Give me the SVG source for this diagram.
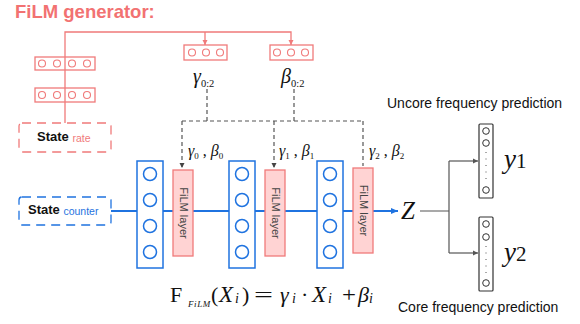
<svg xmlns="http://www.w3.org/2000/svg" width="580" height="324" viewBox="0 0 580 324">
<defs>
<style>
.pk{fill:none;stroke:#f07a7a;stroke-width:1.3}
.pkc{fill:#fff;stroke:#f07a7a;stroke-width:1.1}
.bl{fill:#fff;stroke:#1f73e0;stroke-width:1.5}
.blc{fill:#fff;stroke:#1f73e0;stroke-width:1.5}
.fl{fill:#ffd3d3;stroke:#f07a7a;stroke-width:1.3}
.fltx{font-family:"Liberation Sans",Arial,sans-serif;font-size:11px;fill:#444}
.ds{fill:none;stroke:#555;stroke-width:1.2;stroke-dasharray:4,3}
.mth{font-family:"Liberation Serif","Times New Roman",serif;font-style:italic;fill:#111}
.sub{font-family:"Liberation Serif","Times New Roman",serif;font-style:normal;fill:#111}
.lab{font-family:"Liberation Sans",Arial,sans-serif;font-size:14px;fill:#111}
.oc{fill:#fff;stroke:#333;stroke-width:1}
.fm{font-family:"Liberation Serif","Times New Roman",serif;font-size:22px;fill:#111}
.fi{font-style:italic}
.fs{font-style:italic;font-size:14px}
</style>
<marker id="apk" markerWidth="6" markerHeight="6" refX="5" refY="3" orient="auto" markerUnits="userSpaceOnUse"><path d="M0,0.5 L5,3 L0,5.5z" fill="#f07a7a"/></marker>
<marker id="ads" markerWidth="6" markerHeight="6" refX="5" refY="3" orient="auto" markerUnits="userSpaceOnUse"><path d="M0,0.5 L5,3 L0,5.5z" fill="#444"/></marker>
<marker id="abl" markerWidth="8" markerHeight="8" refX="7" refY="4" orient="auto" markerUnits="userSpaceOnUse"><path d="M0,1 L7,4 L0,7z" fill="#1f73e0"/></marker>
<marker id="agr" markerWidth="6" markerHeight="6" refX="5" refY="3" orient="auto" markerUnits="userSpaceOnUse"><path d="M0,0.5 L5,3 L0,5.5z" fill="#555"/></marker>
</defs>
<rect width="580" height="324" fill="#fff"/>

<text x="15" y="18" font-family="Liberation Sans,Arial,sans-serif" font-weight="bold" font-size="18.5" fill="#f27272">FiLM generator:</text>

<g id="connectors">
<path class="pk" d="M65,123 V32 H291 V45" marker-end="url(#apk)"/>
<path class="pk" d="M205,32 V45" marker-end="url(#apk)"/>
<path class="ds" d="M207,89 V121 M294,89 V121 M182,121 H363"/>
<path class="ds" d="M182,121 V168" marker-end="url(#ads)"/>
<path class="ds" d="M274,121 V168" marker-end="url(#ads)"/>
<path class="ds" d="M363,121 V166"/>
<path d="M111,211 H137 M163,211 H173 M193,211 H229 M255,211 H265 M285,211 H317 M343,211 H353 M373,211 H398" fill="none" stroke="#1f73e0" stroke-width="2" marker-end="url(#abl)"/>
<path d="M420,211 H449 M449,161 V253" fill="none" stroke="#555" stroke-width="1.2"/>
<path d="M449,161 H478" fill="none" stroke="#555" stroke-width="1.2" marker-end="url(#agr)"/>
<path d="M449,253 H478" fill="none" stroke="#555" stroke-width="1.2" marker-end="url(#agr)"/>
</g>

<g id="gen1">
<rect class="pk" x="35" y="57" width="60" height="13"/>
<circle class="pkc" cx="42" cy="63.5" r="3.5"/><circle class="pkc" cx="57" cy="63.5" r="3.5"/><circle class="pkc" cx="72" cy="63.5" r="3.5"/><circle class="pkc" cx="87" cy="63.5" r="3.5"/>
</g>
<g id="gen2">
<rect class="pk" x="35" y="88" width="60" height="14" fill="#fff"/>
<circle class="pkc" cx="42" cy="95" r="3.5"/><circle class="pkc" cx="57" cy="95" r="3.5"/><circle class="pkc" cx="72" cy="95" r="3.5"/><circle class="pkc" cx="87" cy="95" r="3.5"/>
</g>
<g id="state_rate">
<rect x="19" y="123" width="92" height="29" rx="3" fill="#fff" stroke="#f07a7a" stroke-width="1.3" stroke-dasharray="9,6"/>
<text x="37" y="141" font-family="Liberation Sans,Arial,sans-serif" font-weight="bold" font-size="13" fill="#111">State <tspan font-weight="normal" font-size="10.5" fill="#f07a7a" dy="1">rate</tspan></text>
</g>

<g id="gamma_box">
<rect class="pk" x="184" y="45" width="43" height="15" fill="#fff"/>
<circle class="pkc" cx="192" cy="52.5" r="3.5"/><circle class="pkc" cx="206" cy="52.5" r="3.5"/><circle class="pkc" cx="220" cy="52.5" r="3.5"/>
<text class="mth" x="193" y="83" font-size="20">γ<tspan class="sub" font-size="10.5" dy="4">0:2</tspan></text>
</g>
<g id="beta_box">
<rect class="pk" x="270" y="45" width="43" height="15" fill="#fff"/>
<circle class="pkc" cx="277" cy="52.5" r="3.5"/><circle class="pkc" cx="291" cy="52.5" r="3.5"/><circle class="pkc" cx="305" cy="52.5" r="3.5"/>
<text class="mth" x="281" y="83" font-size="20">β<tspan class="sub" font-size="10.5" dy="4">0:2</tspan></text>
</g>

<text class="mth" x="188" y="156" font-size="16">γ<tspan class="sub" font-size="9" dy="3">0</tspan><tspan class="sub" dy="-3"> , </tspan>β<tspan class="sub" font-size="9" dy="3">0</tspan></text>
<text class="mth" x="279" y="156" font-size="16">γ<tspan class="sub" font-size="9" dy="3">1</tspan><tspan class="sub" dy="-3"> , </tspan>β<tspan class="sub" font-size="9" dy="3">1</tspan></text>
<text class="mth" x="369" y="156" font-size="16">γ<tspan class="sub" font-size="9" dy="3">2</tspan><tspan class="sub" dy="-3"> , </tspan>β<tspan class="sub" font-size="9" dy="3">2</tspan></text>

<g id="state_counter">
<rect x="19" y="197" width="92" height="28" rx="3" fill="#fff" stroke="#1f73e0" stroke-width="1.3" stroke-dasharray="9,6"/>
<text x="28" y="214" font-family="Liberation Sans,Arial,sans-serif" font-weight="bold" font-size="13" fill="#111">State <tspan font-weight="normal" font-size="10.5" fill="#1f73e0" dy="1">counter</tspan></text>
</g>

<g id="layer1">
<rect class="bl" x="137" y="161" width="26" height="107"/>
<circle class="blc" cx="150" cy="174" r="6.5"/><circle class="blc" cx="150" cy="200" r="6.5"/><circle class="blc" cx="150" cy="226" r="6.5"/><circle class="blc" cx="150" cy="252" r="6.5"/>
</g>
<g id="film1">
<rect class="fl" x="173" y="170" width="20" height="86"/>
<text class="fltx" transform="translate(179.5,213) rotate(90)" text-anchor="middle">FiLM layer</text>
</g>
<g id="layer2">
<rect class="bl" x="229" y="161" width="26" height="107"/>
<circle class="blc" cx="242" cy="174" r="6.5"/><circle class="blc" cx="242" cy="200" r="6.5"/><circle class="blc" cx="242" cy="226" r="6.5"/><circle class="blc" cx="242" cy="252" r="6.5"/>
</g>
<g id="film2">
<rect class="fl" x="265" y="170" width="20" height="86"/>
<text class="fltx" transform="translate(271.5,213) rotate(90)" text-anchor="middle">FiLM layer</text>
</g>
<g id="layer3">
<rect class="bl" x="317" y="161" width="26" height="107"/>
<circle class="blc" cx="330" cy="174" r="6.5"/><circle class="blc" cx="330" cy="200" r="6.5"/><circle class="blc" cx="330" cy="226" r="6.5"/><circle class="blc" cx="330" cy="252" r="6.5"/>
</g>
<g id="film3">
<rect class="fl" x="353" y="168" width="20" height="85"/>
<text class="fltx" transform="translate(359.5,210.5) rotate(90)" text-anchor="middle">FiLM layer</text>
</g>

<g id="z">
<text class="mth" x="401" y="219" font-size="25">Z</text>
</g>

<text class="lab" x="387" y="108">Uncore frequency prediction</text>
<text class="lab" x="398" y="312">Core frequency prediction</text>

<g id="out1">
<rect x="479" y="124" width="14" height="74" rx="1" fill="#fff" stroke="#333" stroke-width="1.2"/>
<circle class="oc" cx="486" cy="131" r="3.3"/><circle class="oc" cx="486" cy="143" r="3.3"/>
<path d="M486,152 V184" stroke="#555" stroke-width="1" stroke-dasharray="1,5.5"/>
<circle class="oc" cx="486" cy="190" r="3.3"/>
<text class="mth" x="504" y="168" font-size="27">y<tspan class="sub" font-size="21">1</tspan></text>
</g>
<g id="out2">
<rect x="479" y="217" width="14" height="74" rx="1" fill="#fff" stroke="#333" stroke-width="1.2"/>
<circle class="oc" cx="486" cy="224" r="3.3"/><circle class="oc" cx="486" cy="237" r="3.3"/>
<path d="M486,246 V278" stroke="#555" stroke-width="1" stroke-dasharray="1,5.5"/>
<circle class="oc" cx="486" cy="283" r="3.3"/>
<text class="mth" x="504" y="261" font-size="27">y<tspan class="sub" font-size="21">2</tspan></text>
</g>

<g id="formula" class="fm">
<text x="170" y="302">F</text>
<text class="fi" x="188" y="307" font-size="9" letter-spacing="0.6">FiLM</text>
<text x="211" y="302">(</text>
<text class="fi" x="219" y="302" font-size="23">X</text>
<text class="fs" x="235" y="303">i</text>
<text x="242" y="302">)</text>
<text x="254" y="302" textLength="19" lengthAdjust="spacingAndGlyphs">=</text>
<text class="fi" x="280" y="302">γ</text>
<text class="fs" x="292" y="303">i</text>
<text x="301" y="302">·</text>
<text class="fi" x="312" y="302" font-size="23">X</text>
<text class="fs" x="328" y="303">i</text>
<text x="342" y="302" textLength="14" lengthAdjust="spacingAndGlyphs">+</text>
<text class="fi" x="358" y="302">β</text>
<text class="fs" x="369" y="303">i</text>
</g>
</svg>
